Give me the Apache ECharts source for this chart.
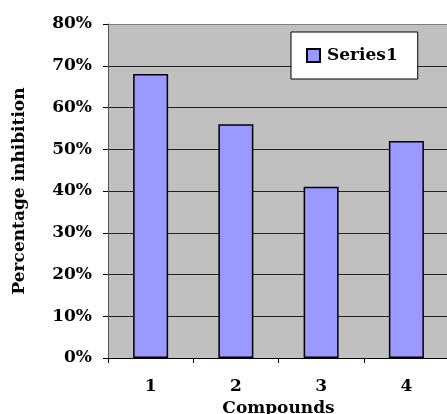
<!DOCTYPE html>
<html>
<head>
<meta charset="utf-8">
<script src="https://cdn.jsdelivr.net/npm/echarts@6/dist/echarts.min.js"></script>
<style>html,body{margin:0;padding:0;background:#fff;}#c{width:447px;height:414px;}</style>
</head>
<body>
<div id="c"></div>
<script>
var categories = ['1', '2', '3', '4'];
var seriesName = 'Series1';
var values = [68, 56, 41, 52];
var yTicks = [0, 10, 20, 30, 40, 50, 60, 70, 80];

var FONT = '"DejaVu Serif", serif';
var chart = echarts.init(document.getElementById('c'));
chart.setOption({
  animation: false,
  backgroundColor: '#fff',
  grid: {
    left: 108, top: 24, width: 341, height: 334,
    show: true, backgroundColor: '#C0C0C0', borderWidth: 0,
    containLabel: false, outerBoundsMode: 'none'
  },
  legend: {
    left: 291, top: 32,
    padding: [15, 20, 15, 15],
    backgroundColor: '#fff', borderColor: '#000', borderWidth: 1,
    icon: 'rect',
    itemWidth: 13, itemHeight: 13,
    textStyle: { fontFamily: FONT, fontWeight: 'bold', fontSize: 17, color: '#000', padding: [0, 0, 0, 2] },
    data: [seriesName]
  },
  xAxis: {
    type: 'category',
    data: categories,
    name: 'Compounds',
    nameLocation: 'middle',
    nameGap: 41,
    nameTextStyle: { fontFamily: FONT, fontWeight: 'bold', fontSize: 17, color: '#000' },
    axisLine: { lineStyle: { color: '#000', width: 1 } },
    axisTick: { show: true, length: 5, inside: false, lineStyle: { color: '#000' } },
    axisLabel: { margin: 20, fontFamily: FONT, fontWeight: 'bold', fontSize: 17, color: '#000' }
  },
  yAxis: {
    type: 'value',
    min: yTicks[0], max: yTicks[yTicks.length - 1], interval: 10,
    name: 'Percentage inhibition',
    nameLocation: 'middle',
    nameGap: 80,
    nameTextStyle: { fontFamily: FONT, fontWeight: 'bold', fontSize: 17, color: '#000' },
    axisLine: { show: true, lineStyle: { color: '#555', width: 1 } },
    axisTick: { show: true, length: 5, lineStyle: { color: '#000' } },
    axisLabel: { margin: 16, formatter: '{value}%', fontFamily: FONT, fontWeight: 'bold', fontSize: 17, color: '#000' },
    splitLine: { show: true, lineStyle: { color: ['#000', '#222', '#222', '#222', '#222', '#222', '#222', '#222', '#808080'], width: 1 } }
  },
  series: [{
    name: seriesName,
    type: 'bar',
    data: values,
    barWidth: 35,
    itemStyle: { color: '#9999FF', borderColor: '#000', borderWidth: 1.5 }
  }]
});
</script>
</body>
</html>
